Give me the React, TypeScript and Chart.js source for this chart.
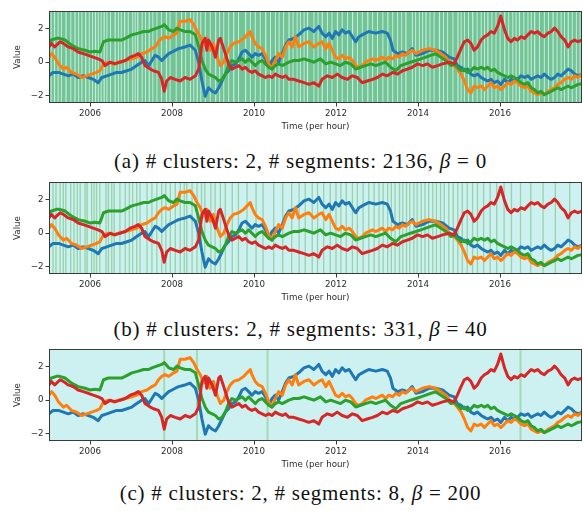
import React, { useEffect, useRef } from 'react';
import { Chart, registerables } from 'chart.js';

Chart.register(...registerables);

// ---------- data ----------
const xTicks = [2006, 2008, 2010, 2012, 2014, 2016];
const yTicks = [-2, 0, 2];

const blueT = [2005.00, 2005.10, 2005.23, 2005.35, 2005.47, 2005.59, 2005.71, 2005.84, 2005.96, 2006.08, 2006.20, 2006.29, 2006.41, 2006.53, 2006.65, 2006.77, 2006.90, 2007.02, 2007.14, 2007.26, 2007.34, 2007.43, 2007.51, 2007.59, 2007.67, 2007.75, 2007.83, 2007.92, 2008.00, 2008.08, 2008.16, 2008.32, 2008.44, 2008.57, 2008.65, 2008.73, 2008.81, 2008.89, 2008.98, 2009.06, 2009.14, 2009.22, 2009.30, 2009.38, 2009.46, 2009.55, 2009.63, 2009.71, 2009.79, 2009.87, 2009.95, 2010.03, 2010.11, 2010.20, 2010.28, 2010.36, 2010.44, 2010.52, 2010.60, 2010.69, 2010.77, 2010.85, 2010.97, 2011.09, 2011.22, 2011.34, 2011.46, 2011.58, 2011.66, 2011.75, 2011.83, 2011.91, 2011.99, 2012.07, 2012.15, 2012.23, 2012.32, 2012.40, 2012.48, 2012.56, 2012.64, 2012.72, 2012.80, 2012.97, 2013.13, 2013.25, 2013.33, 2013.39, 2013.50, 2013.62, 2013.74, 2013.86, 2013.95, 2014.11, 2014.27, 2014.43, 2014.60, 2014.76, 2014.88, 2014.96, 2015.05, 2015.13, 2015.21, 2015.29, 2015.37, 2015.45, 2015.54, 2015.62, 2015.70, 2015.78, 2015.86, 2015.94, 2016.02, 2016.11, 2016.19, 2016.27, 2016.35, 2016.43, 2016.51, 2016.60, 2016.68, 2016.76, 2016.84, 2016.92, 2017.00, 2017.08, 2017.17, 2017.25, 2017.33, 2017.41, 2017.49, 2017.58, 2017.66, 2017.74, 2017.82, 2017.90, 2018.00];
const blueV = [-0.81, -0.61, -0.61, -0.71, -0.81, -0.71, -0.91, -0.81, -0.91, -1.02, -1.22, -0.91, -0.81, -0.71, -0.61, -0.61, -0.51, -0.41, -0.2, 0, 0.1, -0.2, 0.1, 0.41, 0.3, 0.1, 0.3, 0.51, 0.61, 0.71, 0.81, 0.91, 1.02, 0.71, 0, -1.12, -2.03, -1.52, -1.73, -1.83, -1.52, -1.12, -0.71, -0.51, -0.2, -0.1, 0.2, 0.61, 0.71, 0.51, 0.3, 0.51, 0.41, 0.51, 0.2, -0.3, 0.1, 0.3, 0, 0.51, 1.02, 1.32, 1.42, 1.63, 1.93, 2.03, 1.83, 2.13, 1.73, 1.52, 1.73, 1.42, 1.83, 1.63, 1.93, 1.73, 1.83, 1.52, 1.22, 1.52, 1.63, 1.73, 1.83, 1.73, 1.83, 1.73, 1.32, 0.71, 0.51, 0.61, 0.51, 0.81, 0.41, 0.51, 0.71, 0.71, 0.61, 0.3, 0.2, -0.2, -0.3, -0.51, -0.41, -0.71, -0.81, -0.71, -0.91, -1.02, -1.12, -1.02, -1.22, -1.12, -1.32, -1.02, -1.22, -1.02, -1.12, -1.02, -0.81, -0.91, -0.81, -1.02, -0.91, -0.81, -0.91, -0.71, -0.91, -1.02, -0.91, -0.71, -0.81, -0.61, -0.41, -0.51, -0.71, -0.81, -0.71];

const orangeT = [2005.00, 2005.06, 2005.14, 2005.23, 2005.35, 2005.43, 2005.55, 2005.67, 2005.80, 2005.92, 2006.04, 2006.16, 2006.24, 2006.33, 2006.45, 2006.57, 2006.69, 2006.86, 2007.02, 2007.14, 2007.26, 2007.39, 2007.51, 2007.59, 2007.67, 2007.75, 2007.83, 2007.92, 2008.04, 2008.12, 2008.20, 2008.32, 2008.44, 2008.53, 2008.61, 2008.69, 2008.77, 2008.85, 2008.93, 2009.01, 2009.10, 2009.18, 2009.26, 2009.34, 2009.42, 2009.50, 2009.63, 2009.75, 2009.83, 2009.91, 2009.95, 2010.03, 2010.11, 2010.20, 2010.28, 2010.36, 2010.44, 2010.52, 2010.60, 2010.69, 2010.77, 2010.85, 2010.93, 2011.01, 2011.09, 2011.22, 2011.34, 2011.46, 2011.58, 2011.66, 2011.75, 2011.83, 2011.91, 2011.99, 2012.07, 2012.15, 2012.23, 2012.32, 2012.40, 2012.48, 2012.56, 2012.64, 2012.72, 2012.80, 2012.89, 2012.97, 2013.05, 2013.13, 2013.21, 2013.29, 2013.38, 2013.46, 2013.54, 2013.62, 2013.70, 2013.78, 2013.86, 2013.95, 2014.11, 2014.27, 2014.43, 2014.56, 2014.68, 2014.80, 2014.88, 2014.96, 2015.05, 2015.13, 2015.21, 2015.29, 2015.37, 2015.45, 2015.54, 2015.62, 2015.70, 2015.78, 2015.86, 2015.94, 2016.02, 2016.11, 2016.19, 2016.27, 2016.35, 2016.43, 2016.51, 2016.60, 2016.68, 2016.76, 2016.84, 2016.92, 2017.00, 2017.08, 2017.17, 2017.25, 2017.33, 2017.41, 2017.49, 2017.58, 2017.66, 2017.74, 2017.82, 2017.90, 2018.00];
const orangeV = [0.30, 0.51, 0.30, -0.1, -0.41, -0.30, -0.61, -0.71, -0.91, -0.81, -0.71, -0.61, -0.51, -0.1, 0, -0.1, 0, 0.1, 0.2, 0.3, 0.51, 0.61, 0.81, 0.91, 1.22, 1.42, 1.52, 1.42, 1.63, 1.73, 2.44, 2.44, 2.54, 2.24, 1.83, 1.52, 1.02, 1.42, 0.71, 1.12, 0.30, -0.2, 0, 0.51, 0.91, 1.12, 1.22, 1.42, 1.63, 1.83, 1.52, 1.12, 0.91, 0.81, 0.41, -0.1, -0.41, 0.1, 0.51, 0.3, 0.91, 1.22, 0.91, 1.52, 0.91, 1.12, 1.22, 0.91, 1.12, 1.22, 0.81, 1.12, 0.71, 0.30, 0.2, 0.41, 0.2, 0.30, 0.10, -0.2, -0.3, -0.2, 0, 0.1, 0.2, 0.1, 0.2, 0.3, 0.1, 0.3, 0.2, 0.41, 0.3, 0.51, 0.41, 0.61, 0.71, 0.51, 0.71, 0.81, 0.71, 0.51, 0.3, -0.1, -0.2, -0.41, -0.71, -1.12, -1.63, -1.83, -1.42, -1.52, -1.42, -1.63, -1.42, -1.22, -1.52, -1.42, -1.63, -1.42, -1.22, -1.32, -1.12, -1.22, -1.42, -1.52, -1.42, -1.73, -1.83, -1.93, -1.83, -1.93, -1.73, -1.63, -1.52, -1.32, -1.22, -1.02, -0.91, -1.02, -0.81, -0.91, -0.71];

const greenT = [2005.00, 2005.06, 2005.18, 2005.26, 2005.39, 2005.55, 2005.71, 2005.88, 2006.00, 2006.12, 2006.24, 2006.33, 2006.45, 2006.61, 2006.77, 2006.86, 2007.02, 2007.18, 2007.31, 2007.43, 2007.51, 2007.63, 2007.75, 2007.81, 2007.92, 2008.04, 2008.12, 2008.20, 2008.32, 2008.44, 2008.57, 2008.65, 2008.73, 2008.81, 2008.89, 2008.98, 2009.06, 2009.14, 2009.22, 2009.30, 2009.38, 2009.46, 2009.55, 2009.63, 2009.71, 2009.79, 2009.87, 2009.95, 2010.03, 2010.11, 2010.20, 2010.28, 2010.36, 2010.44, 2010.52, 2010.60, 2010.69, 2010.77, 2010.85, 2010.97, 2011.09, 2011.22, 2011.34, 2011.46, 2011.62, 2011.75, 2011.87, 2011.99, 2012.11, 2012.23, 2012.36, 2012.48, 2012.60, 2012.72, 2012.85, 2012.97, 2013.09, 2013.21, 2013.33, 2013.46, 2013.58, 2013.70, 2013.82, 2013.95, 2014.07, 2014.19, 2014.31, 2014.43, 2014.56, 2014.68, 2014.80, 2014.88, 2014.96, 2015.05, 2015.13, 2015.21, 2015.29, 2015.37, 2015.45, 2015.54, 2015.62, 2015.70, 2015.78, 2015.86, 2015.94, 2016.02, 2016.11, 2016.19, 2016.27, 2016.35, 2016.43, 2016.51, 2016.60, 2016.68, 2016.76, 2016.84, 2016.92, 2017.00, 2017.08, 2017.17, 2017.25, 2017.33, 2017.41, 2017.49, 2017.58, 2017.66, 2017.74, 2017.82, 2017.90, 2018.00];
const greenV = [1.22, 1.32, 1.42, 1.42, 1.32, 1.02, 0.81, 0.71, 0.61, 0.65, 0.61, 1.22, 1.32, 1.32, 1.32, 1.42, 1.63, 1.73, 1.83, 1.83, 1.93, 2.03, 2.13, 2.24, 1.93, 1.83, 2.03, 1.93, 1.83, 1.83, 1.63, 0.91, 0.10, -0.41, -0.71, -0.81, -0.91, -1.12, -1.02, -0.71, -0.2, 0.10, 0, 0.10, 0.2, 0, 0.2, 0, -0.2, 0, 0.1, -0.1, -0.3, -0.41, -0.2, -0.1, -0.2, -0.1, 0, 0.1, 0.1, 0.2, 0.1, 0, 0.2, -0.1, 0, -0.1, -0.2, 0, -0.1, -0.41, -0.3, -0.2, -0.1, -0.2, -0.1, 0, -0.3, -0.51, -0.2, -0.1, 0, 0.1, 0.2, 0.3, 0.41, 0.51, 0.3, 0.1, -0.2, -0.1, -0.3, -0.51, -0.41, -0.61, -0.51, -0.3, -0.41, -0.3, -0.41, -0.3, -0.51, -0.41, -0.61, -0.71, -0.81, -0.91, -0.81, -0.91, -1.02, -1.22, -1.32, -1.22, -1.52, -1.63, -1.83, -1.73, -1.93, -1.83, -1.73, -1.63, -1.52, -1.63, -1.52, -1.42, -1.52, -1.42, -1.32, -1.28];

const redT = [2005.00, 2005.06, 2005.14, 2005.27, 2005.35, 2005.47, 2005.59, 2005.71, 2005.84, 2005.96, 2006.08, 2006.20, 2006.29, 2006.37, 2006.49, 2006.61, 2006.73, 2006.86, 2006.98, 2007.10, 2007.18, 2007.26, 2007.34, 2007.47, 2007.55, 2007.67, 2007.75, 2007.81, 2007.87, 2007.96, 2008.08, 2008.20, 2008.32, 2008.44, 2008.57, 2008.65, 2008.73, 2008.81, 2008.85, 2008.89, 2008.98, 2009.06, 2009.14, 2009.18, 2009.22, 2009.30, 2009.38, 2009.46, 2009.55, 2009.63, 2009.71, 2009.79, 2009.87, 2009.95, 2010.03, 2010.11, 2010.20, 2010.28, 2010.36, 2010.44, 2010.52, 2010.60, 2010.69, 2010.77, 2010.85, 2010.97, 2011.09, 2011.22, 2011.34, 2011.46, 2011.58, 2011.66, 2011.79, 2011.91, 2012.03, 2012.15, 2012.28, 2012.40, 2012.52, 2012.64, 2012.76, 2012.89, 2013.01, 2013.13, 2013.25, 2013.38, 2013.50, 2013.62, 2013.74, 2013.86, 2013.99, 2014.11, 2014.23, 2014.35, 2014.48, 2014.60, 2014.76, 2014.88, 2014.96, 2015.05, 2015.13, 2015.21, 2015.29, 2015.37, 2015.45, 2015.54, 2015.62, 2015.70, 2015.78, 2015.86, 2015.94, 2016.02, 2016.11, 2016.19, 2016.27, 2016.35, 2016.43, 2016.51, 2016.60, 2016.68, 2016.76, 2016.84, 2016.92, 2017.00, 2017.08, 2017.17, 2017.25, 2017.33, 2017.41, 2017.49, 2017.58, 2017.66, 2017.74, 2017.82, 2017.90, 2018.00];
const redV = [0.91, 1.12, 0.91, 1.22, 1.12, 0.91, 0.81, 0.61, 0.51, 0.41, 0.30, 0.20, 0.10, -0.2, 0, -0.1, 0, 0.1, 0.3, 0.41, 0.51, 0.30, -0.2, -0.41, -0.51, -0.61, -1.02, -1.73, -1.12, -0.91, -1.02, -1.12, -0.91, -1.02, -0.81, -0.41, 1.12, 1.42, 0.71, 1.32, 0.91, 0.30, 1.32, 1.42, 1.12, 0.51, -0.1, -0.41, -0.3, -0.2, -0.41, -0.3, -0.51, -0.61, -0.51, -0.71, -0.81, -0.91, -0.81, -0.91, -0.71, -0.81, -0.91, -0.81, -1.02, -1.02, -1.12, -1.22, -1.32, -1.22, -1.42, -1.02, -0.81, -0.91, -0.71, -0.91, -1.02, -0.81, -0.91, -1.22, -1.12, -1.02, -0.91, -0.71, -0.81, -0.61, -0.71, -0.51, -0.41, -0.3, -0.1, -0.2, -0.1, -0.3, -0.2, -0.1, 0, -0.1, 0.3, 0.81, 1.22, 1.32, 1.12, 0.71, 0.91, 1.32, 1.52, 1.63, 1.83, 1.73, 2.13, 2.75, 1.93, 1.42, 1.22, 1.42, 1.32, 1.52, 1.42, 1.63, 1.83, 1.73, 1.83, 1.63, 1.52, 1.73, 1.83, 2.03, 1.83, 1.52, 1.32, 0.91, 1.22, 1.32, 1.22, 1.32];

// (a) pale (other-cluster) segments inside the green background, [start, end] in years
const segmentsA = [
  [2005.04, 2005.06], [2005.12, 2005.15], [2005.21, 2005.23], [2005.29, 2005.31], [2005.40, 2005.43], [2005.52, 2005.54], [2005.62, 2005.65], [2005.71, 2005.73], [2005.79, 2005.81], [2005.88, 2005.91],
  [2005.97, 2005.99], [2006.05, 2006.07], [2006.12, 2006.15], [2006.19, 2006.21], [2006.26, 2006.28], [2006.33, 2006.36], [2006.40, 2006.42], [2006.49, 2006.51], [2006.60, 2006.63], [2006.68, 2006.70],
  [2006.75, 2006.77], [2006.83, 2006.86], [2006.92, 2006.94], [2007.03, 2007.05], [2007.09, 2007.11], [2007.15, 2007.18], [2007.26, 2007.28], [2007.34, 2007.36], [2007.43, 2007.46], [2007.52, 2007.54],
  [2007.62, 2007.64], [2007.73, 2007.75], [2007.85, 2007.88], [2007.94, 2007.96], [2008.09, 2008.11], [2008.22, 2008.25], [2008.32, 2008.34], [2008.44, 2008.46], [2008.52, 2008.54], [2008.60, 2008.63],
  [2008.69, 2008.71], [2008.80, 2008.82], [2008.92, 2008.94], [2009.05, 2009.08], [2009.15, 2009.17], [2009.25, 2009.27], [2009.37, 2009.39], [2009.49, 2009.52], [2009.61, 2009.63], [2009.78, 2009.81],
  [2009.90, 2009.92], [2010.02, 2010.04], [2010.14, 2010.16], [2010.27, 2010.30], [2010.39, 2010.41], [2010.51, 2010.53], [2010.60, 2010.62], [2010.71, 2010.73], [2010.84, 2010.87], [2010.94, 2010.96],
  [2011.04, 2011.06], [2011.12, 2011.14], [2011.21, 2011.23], [2011.29, 2011.32], [2011.45, 2011.47], [2011.55, 2011.57], [2011.65, 2011.68], [2011.78, 2011.80], [2011.89, 2011.91], [2012.02, 2012.05],
  [2012.14, 2012.16], [2012.27, 2012.29], [2012.39, 2012.42], [2012.51, 2012.53], [2012.63, 2012.65], [2012.76, 2012.79], [2012.88, 2012.90], [2013.00, 2013.02], [2013.13, 2013.15], [2013.25, 2013.28],
  [2013.37, 2013.39], [2013.49, 2013.51], [2013.59, 2013.61], [2013.69, 2013.72], [2013.85, 2013.87], [2013.93, 2013.95], [2014.02, 2014.04], [2014.10, 2014.12], [2014.18, 2014.21], [2014.28, 2014.30],
  [2014.38, 2014.40], [2014.51, 2014.54], [2014.61, 2014.63], [2014.71, 2014.73], [2014.84, 2014.86], [2014.96, 2014.99], [2015.04, 2015.06], [2015.12, 2015.14], [2015.22, 2015.24], [2015.32, 2015.35],
  [2015.43, 2015.45], [2015.53, 2015.55], [2015.61, 2015.63], [2015.69, 2015.72], [2015.79, 2015.81], [2015.89, 2015.91], [2015.99, 2016.01], [2016.10, 2016.13], [2016.20, 2016.22], [2016.30, 2016.32],
  [2016.38, 2016.40], [2016.46, 2016.49], [2016.57, 2016.59], [2016.67, 2016.69], [2016.75, 2016.77], [2016.83, 2016.86], [2016.95, 2016.97], [2017.07, 2017.09], [2017.17, 2017.19], [2017.28, 2017.31],
  [2017.38, 2017.40], [2017.48, 2017.50], [2017.56, 2017.58], [2017.65, 2017.68], [2017.75, 2017.77], [2017.85, 2017.87], [2017.94, 2017.96],
];

// (b) short green-cluster segments inside the cyan background (times, years)
const switchesB = [
  2005.10, 2005.17, 2005.27, 2005.35, 2005.41, 2005.53, 2005.61, 2005.69, 2005.76, 2005.88, 2005.93, 2006.04, 2006.10, 2006.16, 2006.24, 2006.39, 2006.45, 2006.53, 2006.59, 2006.73,
  2006.86, 2006.96, 2007.04, 2007.14, 2007.22, 2007.39, 2007.51, 2007.63, 2007.75, 2007.85, 2007.96, 2008.08, 2008.20, 2008.30, 2008.36, 2008.49, 2008.61, 2008.72, 2008.80, 2008.95,
  2009.05, 2009.18, 2009.30, 2009.47, 2009.62, 2009.83, 2010.05, 2010.22, 2010.48, 2010.70, 2010.92, 2011.10, 2011.25, 2011.42, 2011.55, 2011.70, 2011.86, 2012.00, 2012.12, 2012.25,
  2012.40, 2012.52, 2012.66, 2012.80, 2012.93, 2013.05, 2013.15, 2013.26, 2013.35, 2013.44, 2013.55, 2013.63, 2013.72, 2013.80, 2013.90, 2013.98, 2014.08, 2014.17, 2014.26, 2014.36,
  2014.45, 2014.55, 2014.64, 2014.75, 2014.86, 2014.97, 2015.08, 2015.20, 2015.33, 2015.45, 2015.60, 2015.76, 2015.92, 2016.10, 2016.28, 2016.50, 2016.75, 2017.05, 2017.35, 2017.70,
];

// (c) short green-cluster segments inside the cyan background (times, years)
const switchesC = [2007.81, 2008.61, 2010.33, 2016.50];

// ---------- helpers ----------
const FONT = 'DejaVu Sans';
const TXT = '#2b2b2b';

function makeBgPlugin(base: string, color: string, spans: number[][], lines: number[], lineW: number) {
  return {
    id: 'bgStripes',
    beforeDatasetsDraw(chart: any) {
      const { ctx, chartArea: a, scales } = chart;
      const x = scales.x;
      ctx.save();
      ctx.beginPath();
      ctx.rect(a.left, a.top, a.right - a.left, a.bottom - a.top);
      ctx.clip();
      ctx.fillStyle = base;
      ctx.fillRect(a.left, a.top, a.right - a.left, a.bottom - a.top);
      ctx.fillStyle = color;
      for (const [s, e] of spans) {
        const x0 = x.getPixelForValue(s);
        const x1 = x.getPixelForValue(e);
        ctx.fillRect(x0, a.top, Math.max(1, x1 - x0), a.bottom - a.top);
      }
      for (const t of lines) {
        const xc = x.getPixelForValue(t);
        ctx.fillRect(xc - lineW / 2, a.top, lineW, a.bottom - a.top);
      }
      ctx.restore();
    },
    afterDatasetsDraw(chart: any) {
      const { ctx, chartArea: a } = chart;
      ctx.save();
      ctx.strokeStyle = '#3a3a3a';
      ctx.lineWidth = 1;
      ctx.strokeRect(a.left + 0.5, a.top + 0.5, a.right - a.left - 1, a.bottom - a.top - 1);
      ctx.restore();
    },
  };
}

const series = [
  { t: blueT, v: blueV, color: '#1f77b4', order: 4 },
  { t: orangeT, v: orangeV, color: '#ff7f0e', order: 3 },
  { t: greenT, v: greenV, color: '#2ca02c', order: 2 },
  { t: redT, v: redV, color: '#d62728', order: 1 },
];

type PanelProps = {
  top: number;
  base: string;
  color: string;
  spans: number[][];
  lines: number[];
  lineW: number;
};

function Panel({ top, base, color, spans, lines, lineW }: PanelProps) {
  const ref = useRef<HTMLCanvasElement | null>(null);
  useEffect(() => {
    if (!ref.current) return;
    const tickFont = { family: FONT, size: 8.7 };
    const chart = new Chart(ref.current, {
      type: 'line',
      data: {
        datasets: series.map((s) => ({
          data: s.t.map((t, i) => ({ x: t, y: s.v[i] })),
          borderColor: s.color,
          backgroundColor: s.color,
          borderWidth: 3,
          pointRadius: 0,
          tension: 0,
          fill: false,
          order: s.order,
          borderJoinStyle: 'round' as const,
        })),
      },
      options: {
        responsive: false,
        animation: false,
        devicePixelRatio: 1,
        layout: { padding: { left: 0, right: 1, top: 11, bottom: 0 } },
        plugins: { legend: { display: false }, tooltip: { enabled: false } },
        scales: {
          x: {
            type: 'linear',
            min: 2005,
            max: 2018,
            afterBuildTicks: (s: any) => {
              s.ticks = xTicks.map((v) => ({ value: v }));
            },
            afterFit: (s: any) => {
              s.height = 35;
            },
            grid: { drawOnChartArea: false, drawTicks: true, tickLength: 3.5, color: '#3a3a3a', tickColor: '#3a3a3a' },
            border: { display: false },
            ticks: { font: tickFont, color: TXT, padding: 2, maxRotation: 0, autoSkip: false, callback: (v: any) => String(v) },
            title: { display: true, text: 'Time (per hour)', font: tickFont, color: TXT, padding: { top: 0, bottom: 6 } },
          },
          y: {
            type: 'linear',
            min: -2.43,
            max: 3.05,
            afterBuildTicks: (s: any) => {
              s.ticks = yTicks.map((v) => ({ value: v }));
            },
            afterFit: (s: any) => {
              s.width = 49;
            },
            grid: { drawOnChartArea: false, drawTicks: true, tickLength: 3.5, color: '#3a3a3a', tickColor: '#3a3a3a' },
            border: { display: false },
            ticks: { font: tickFont, color: TXT, padding: 2, callback: (v: any) => String(v).replace('-', '\u2212') },
            title: { display: true, text: 'Value', font: tickFont, color: TXT, padding: { top: 12.5, bottom: 0 } },
          },
        },
      },
      plugins: [makeBgPlugin(base, color, spans, lines, lineW)],
    } as any);
    return () => chart.destroy();
  }, [top, base, color, spans, lines, lineW]);
  return (
    <div style={{ position: 'absolute', left: 0, top, width: 583, height: 138 }}>
      <canvas ref={ref} width={583} height={138} style={{ display: 'block', width: 583, height: 138 }} />
    </div>
  );
}

function Caption({ top, children }: { top: number; children: React.ReactNode }) {
  return (
    <div
      style={{
        position: 'absolute',
        left: 0,
        width: 601,
        top,
        textAlign: 'center',
        fontFamily: '"Liberation Serif", "Times New Roman", serif',
        fontSize: 21,
        lineHeight: '21px',
        letterSpacing: '0.75px',
        color: '#111',
        whiteSpace: 'nowrap',
      }}
    >
      {children}
    </div>
  );
}

export default function App() {
  return (
    <div style={{ position: 'fixed', left: 0, top: 0, width: 583, height: 511, background: '#fff', overflow: 'hidden' }}>
      <Panel top={0} base="#72c495" color="#c4ebdc" spans={segmentsA} lines={[]} lineW={1} />
      <Caption top={151}>
        (a) # clusters: 2, # segments: 2136, <i>β</i> = 0
      </Caption>
      <Panel top={171} base="#cdf1f0" color="#98d2a8" spans={[]} lines={switchesB} lineW={1.3} />
      <Caption top={319}>
        (b) # clusters: 2, # segments: 331, <i>β</i> = 40
      </Caption>
      <Panel top={338} base="#cdf1f0" color="#a6dab0" spans={[]} lines={switchesC} lineW={2} />
      <Caption top={483}>
        (c) # clusters: 2, # segments: 8, <i>β</i> = 200
      </Caption>
    </div>
  );
}
